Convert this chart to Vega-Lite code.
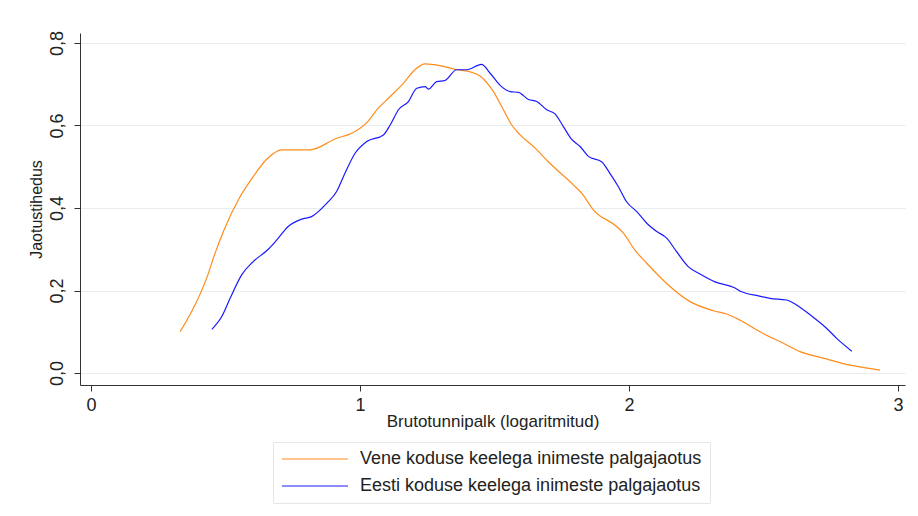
{
  "$schema": "https://vega.github.io/schema/vega-lite/v6.json",
  "autosize": "none",
  "width": 825,
  "height": 352,
  "padding": {"left": 80, "top": 33, "right": 13, "bottom": 131},
  "background": "white",
  "config": {
    "view": {"stroke": null},
    "font": "Liberation Sans"
  },
  "data": {"values": [
    {"series": "Vene koduse keelega inimeste palgajaotus", "x": 0.331, "y": 0.100},
    {"series": "Vene koduse keelega inimeste palgajaotus", "x": 0.374, "y": 0.149},
    {"series": "Vene koduse keelega inimeste palgajaotus", "x": 0.430, "y": 0.230},
    {"series": "Vene koduse keelega inimeste palgajaotus", "x": 0.461, "y": 0.290},
    {"series": "Vene koduse keelega inimeste palgajaotus", "x": 0.492, "y": 0.343},
    {"series": "Vene koduse keelega inimeste palgajaotus", "x": 0.554, "y": 0.427},
    {"series": "Vene koduse keelega inimeste palgajaotus", "x": 0.603, "y": 0.476},
    {"series": "Vene koduse keelega inimeste palgajaotus", "x": 0.653, "y": 0.518},
    {"series": "Vene koduse keelega inimeste palgajaotus", "x": 0.709, "y": 0.541},
    {"series": "Vene koduse keelega inimeste palgajaotus", "x": 0.814, "y": 0.541},
    {"series": "Vene koduse keelega inimeste palgajaotus", "x": 0.913, "y": 0.569},
    {"series": "Vene koduse keelega inimeste palgajaotus", "x": 0.969, "y": 0.581},
    {"series": "Vene koduse keelega inimeste palgajaotus", "x": 1.025, "y": 0.607},
    {"series": "Vene koduse keelega inimeste palgajaotus", "x": 1.068, "y": 0.642},
    {"series": "Vene koduse keelega inimeste palgajaotus", "x": 1.112, "y": 0.670},
    {"series": "Vene koduse keelega inimeste palgajaotus", "x": 1.161, "y": 0.702},
    {"series": "Vene koduse keelega inimeste palgajaotus", "x": 1.204, "y": 0.735},
    {"series": "Vene koduse keelega inimeste palgajaotus", "x": 1.242, "y": 0.749},
    {"series": "Vene koduse keelega inimeste palgajaotus", "x": 1.297, "y": 0.745},
    {"series": "Vene koduse keelega inimeste palgajaotus", "x": 1.359, "y": 0.735},
    {"series": "Vene koduse keelega inimeste palgajaotus", "x": 1.403, "y": 0.731},
    {"series": "Vene koduse keelega inimeste palgajaotus", "x": 1.446, "y": 0.720},
    {"series": "Vene koduse keelega inimeste palgajaotus", "x": 1.496, "y": 0.682},
    {"series": "Vene koduse keelega inimeste palgajaotus", "x": 1.533, "y": 0.638},
    {"series": "Vene koduse keelega inimeste palgajaotus", "x": 1.564, "y": 0.601},
    {"series": "Vene koduse keelega inimeste palgajaotus", "x": 1.595, "y": 0.577},
    {"series": "Vene koduse keelega inimeste palgajaotus", "x": 1.651, "y": 0.545},
    {"series": "Vene koduse keelega inimeste palgajaotus", "x": 1.700, "y": 0.512},
    {"series": "Vene koduse keelega inimeste palgajaotus", "x": 1.793, "y": 0.456},
    {"series": "Vene koduse keelega inimeste palgajaotus", "x": 1.824, "y": 0.436},
    {"series": "Vene koduse keelega inimeste palgajaotus", "x": 1.868, "y": 0.395},
    {"series": "Vene koduse keelega inimeste palgajaotus", "x": 1.954, "y": 0.355},
    {"series": "Vene koduse keelega inimeste palgajaotus", "x": 1.979, "y": 0.339},
    {"series": "Vene koduse keelega inimeste palgajaotus", "x": 2.022, "y": 0.298},
    {"series": "Vene koduse keelega inimeste palgajaotus", "x": 2.066, "y": 0.266},
    {"series": "Vene koduse keelega inimeste palgajaotus", "x": 2.140, "y": 0.217},
    {"series": "Vene koduse keelega inimeste palgajaotus", "x": 2.227, "y": 0.173},
    {"series": "Vene koduse keelega inimeste palgajaotus", "x": 2.314, "y": 0.151},
    {"series": "Vene koduse keelega inimeste palgajaotus", "x": 2.363, "y": 0.143},
    {"series": "Vene koduse keelega inimeste palgajaotus", "x": 2.413, "y": 0.128},
    {"series": "Vene koduse keelega inimeste palgajaotus", "x": 2.487, "y": 0.100},
    {"series": "Vene koduse keelega inimeste palgajaotus", "x": 2.574, "y": 0.072},
    {"series": "Vene koduse keelega inimeste palgajaotus", "x": 2.636, "y": 0.052},
    {"series": "Vene koduse keelega inimeste palgajaotus", "x": 2.722, "y": 0.036},
    {"series": "Vene koduse keelega inimeste palgajaotus", "x": 2.822, "y": 0.019},
    {"series": "Vene koduse keelega inimeste palgajaotus", "x": 2.933, "y": 0.007},
    {"series": "Eesti koduse keelega inimeste palgajaotus", "x": 0.449, "y": 0.106},
    {"series": "Eesti koduse keelega inimeste palgajaotus", "x": 0.486, "y": 0.137},
    {"series": "Eesti koduse keelega inimeste palgajaotus", "x": 0.517, "y": 0.181},
    {"series": "Eesti koduse keelega inimeste palgajaotus", "x": 0.560, "y": 0.238},
    {"series": "Eesti koduse keelega inimeste palgajaotus", "x": 0.603, "y": 0.270},
    {"series": "Eesti koduse keelega inimeste palgajaotus", "x": 0.659, "y": 0.300},
    {"series": "Eesti koduse keelega inimeste palgajaotus", "x": 0.690, "y": 0.322},
    {"series": "Eesti koduse keelega inimeste palgajaotus", "x": 0.733, "y": 0.355},
    {"series": "Eesti koduse keelega inimeste palgajaotus", "x": 0.783, "y": 0.373},
    {"series": "Eesti koduse keelega inimeste palgajaotus", "x": 0.820, "y": 0.379},
    {"series": "Eesti koduse keelega inimeste palgajaotus", "x": 0.876, "y": 0.411},
    {"series": "Eesti koduse keelega inimeste palgajaotus", "x": 0.913, "y": 0.440},
    {"series": "Eesti koduse keelega inimeste palgajaotus", "x": 0.944, "y": 0.484},
    {"series": "Eesti koduse keelega inimeste palgajaotus", "x": 0.981, "y": 0.532},
    {"series": "Eesti koduse keelega inimeste palgajaotus", "x": 1.025, "y": 0.561},
    {"series": "Eesti koduse keelega inimeste palgajaotus", "x": 1.087, "y": 0.577},
    {"series": "Eesti koduse keelega inimeste palgajaotus", "x": 1.112, "y": 0.601},
    {"series": "Eesti koduse keelega inimeste palgajaotus", "x": 1.143, "y": 0.638},
    {"series": "Eesti koduse keelega inimeste palgajaotus", "x": 1.180, "y": 0.658},
    {"series": "Eesti koduse keelega inimeste palgajaotus", "x": 1.211, "y": 0.690},
    {"series": "Eesti koduse keelega inimeste palgajaotus", "x": 1.242, "y": 0.694},
    {"series": "Eesti koduse keelega inimeste palgajaotus", "x": 1.254, "y": 0.688},
    {"series": "Eesti koduse keelega inimeste palgajaotus", "x": 1.285, "y": 0.706},
    {"series": "Eesti koduse keelega inimeste palgajaotus", "x": 1.316, "y": 0.709},
    {"series": "Eesti koduse keelega inimeste palgajaotus", "x": 1.359, "y": 0.735},
    {"series": "Eesti koduse keelega inimeste palgajaotus", "x": 1.397, "y": 0.735},
    {"series": "Eesti koduse keelega inimeste palgajaotus", "x": 1.452, "y": 0.748},
    {"series": "Eesti koduse keelega inimeste palgajaotus", "x": 1.483, "y": 0.727},
    {"series": "Eesti koduse keelega inimeste palgajaotus", "x": 1.526, "y": 0.694},
    {"series": "Eesti koduse keelega inimeste palgajaotus", "x": 1.558, "y": 0.682},
    {"series": "Eesti koduse keelega inimeste palgajaotus", "x": 1.589, "y": 0.680},
    {"series": "Eesti koduse keelega inimeste palgajaotus", "x": 1.626, "y": 0.663},
    {"series": "Eesti koduse keelega inimeste palgajaotus", "x": 1.657, "y": 0.658},
    {"series": "Eesti koduse keelega inimeste palgajaotus", "x": 1.694, "y": 0.638},
    {"series": "Eesti koduse keelega inimeste palgajaotus", "x": 1.725, "y": 0.628},
    {"series": "Eesti koduse keelega inimeste palgajaotus", "x": 1.756, "y": 0.597},
    {"series": "Eesti koduse keelega inimeste palgajaotus", "x": 1.787, "y": 0.566},
    {"series": "Eesti koduse keelega inimeste palgajaotus", "x": 1.818, "y": 0.549},
    {"series": "Eesti koduse keelega inimeste palgajaotus", "x": 1.849, "y": 0.525},
    {"series": "Eesti koduse keelega inimeste palgajaotus", "x": 1.898, "y": 0.512},
    {"series": "Eesti koduse keelega inimeste palgajaotus", "x": 1.929, "y": 0.484},
    {"series": "Eesti koduse keelega inimeste palgajaotus", "x": 1.960, "y": 0.452},
    {"series": "Eesti koduse keelega inimeste palgajaotus", "x": 1.991, "y": 0.415},
    {"series": "Eesti koduse keelega inimeste palgajaotus", "x": 2.029, "y": 0.391},
    {"series": "Eesti koduse keelega inimeste palgajaotus", "x": 2.066, "y": 0.363},
    {"series": "Eesti koduse keelega inimeste palgajaotus", "x": 2.103, "y": 0.343},
    {"series": "Eesti koduse keelega inimeste palgajaotus", "x": 2.140, "y": 0.327},
    {"series": "Eesti koduse keelega inimeste palgajaotus", "x": 2.177, "y": 0.294},
    {"series": "Eesti koduse keelega inimeste palgajaotus", "x": 2.220, "y": 0.258},
    {"series": "Eesti koduse keelega inimeste palgajaotus", "x": 2.264, "y": 0.240},
    {"series": "Eesti koduse keelega inimeste palgajaotus", "x": 2.320, "y": 0.221},
    {"series": "Eesti koduse keelega inimeste palgajaotus", "x": 2.388, "y": 0.208},
    {"series": "Eesti koduse keelega inimeste palgajaotus", "x": 2.419, "y": 0.197},
    {"series": "Eesti koduse keelega inimeste palgajaotus", "x": 2.481, "y": 0.187},
    {"series": "Eesti koduse keelega inimeste palgajaotus", "x": 2.524, "y": 0.181},
    {"series": "Eesti koduse keelega inimeste palgajaotus", "x": 2.586, "y": 0.177},
    {"series": "Eesti koduse keelega inimeste palgajaotus", "x": 2.623, "y": 0.165},
    {"series": "Eesti koduse keelega inimeste palgajaotus", "x": 2.673, "y": 0.141},
    {"series": "Eesti koduse keelega inimeste palgajaotus", "x": 2.735, "y": 0.108},
    {"series": "Eesti koduse keelega inimeste palgajaotus", "x": 2.772, "y": 0.084},
    {"series": "Eesti koduse keelega inimeste palgajaotus", "x": 2.828, "y": 0.053}
  ]},
  "mark": {"type": "line", "strokeWidth": 1.2, "interpolate": "monotone"},
  "encoding": {
    "x": {
      "field": "x", "type": "quantitative",
      "scale": {"domain": [-0.041, 3.026], "nice": false, "zero": false},
      "axis": {
        "title": "Brutotunnipalk (logaritmitud)",
        "values": [0, 1, 2, 3], "format": "d",
        "grid": false,
        "domainColor": "#333333", "tickColor": "#333333",
        "tickSize": 6, "labelFontSize": 18, "labelColor": "#222222",
        "labelPadding": 5,
        "titleFontSize": 17, "titleFontWeight": "normal", "titleColor": "#222222",
        "titlePadding": -1
      }
    },
    "y": {
      "field": "y", "type": "quantitative",
      "scale": {"domain": [-0.029, 0.824], "nice": false, "zero": false},
      "axis": {
        "title": "Jaotustihedus",
        "values": [0, 0.2, 0.4, 0.6, 0.8],
        "labelExpr": "replace(format(datum.value, '.1f'), '.', ',')",
        "labelAngle": -90,
        "labelAlign": "center", "labelBaseline": "bottom",
        "grid": true, "gridColor": "#e8eef0", "gridWidth": 1,
        "domainColor": "#333333", "tickColor": "#333333",
        "tickSize": 6, "labelFontSize": 18, "labelColor": "#222222",
        "labelPadding": 8,
        "titleFontSize": 16, "titleFontWeight": "normal", "titleColor": "#222222",
        "titlePadding": 4
      }
    },
    "color": {
      "field": "series", "type": "nominal",
      "scale": {
        "domain": ["Vene koduse keelega inimeste palgajaotus", "Eesti koduse keelega inimeste palgajaotus"],
        "range": ["#ff8c1a", "#1a1aff"]
      },
      "sort": ["Vene koduse keelega inimeste palgajaotus", "Eesti koduse keelega inimeste palgajaotus"],
      "legend": {
        "title": null,
        "orient": "none",
        "legendX": 193,
        "legendY": 409,
        "direction": "vertical",
        "symbolType": "M-1,0H7.25",
        "symbolSize": 256,
        "symbolStrokeWidth": 1.2,
        "labelFontSize": 18,
        "labelColor": "#222222",
        "labelOffset": 61,
        "labelLimit": 600,
        "rowPadding": 9,
        "padding": 8,
        "strokeColor": "#e4e8ea",
        "fillColor": "white"
      }
    }
  }
}
